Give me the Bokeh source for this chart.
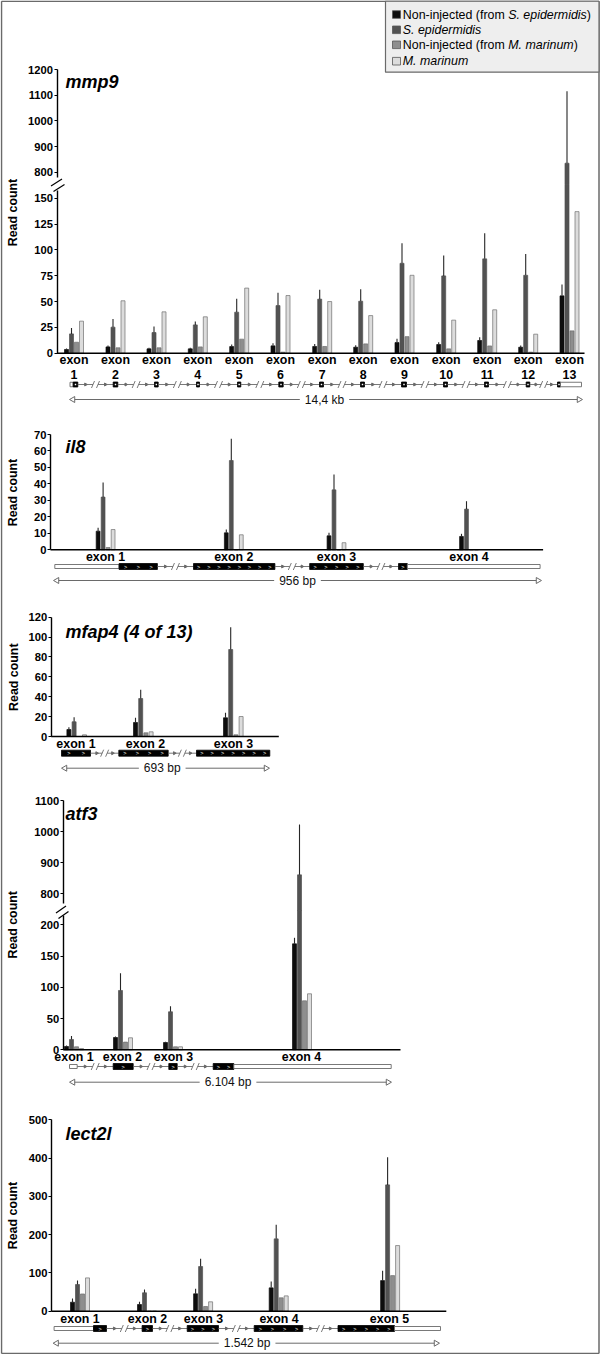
import numpy as np
from bokeh.plotting import figure
from bokeh.models import Range1d, LinearAxis, FixedTicker
from bokeh.embed import file_html
from bokeh.resources import INLINE
from bokeh.core.properties import value

# ---------------- data ----------------
legend_rows = [
    [("Non-injected (from ", "normal"), ("S. epidermidis", "italic"), (")", "normal")],
    [("S. epidermidis", "italic")],
    [("Non-injected (from ", "normal"), ("M. marinum", "italic"), (")", "normal")],
    [("M. marinum", "italic")],
]

mmp9_exons = ["1", "2", "3", "4", "5", "6", "7", "8", "9", "10", "11", "12", "13"]
mmp9_ni_se = [3.6, 6.1, 4.2, 4.2, 6.4, 7.1, 6.5, 5.8, 10.3, 8.4, 12.3, 5.8, 55.5]
mmp9_ni_se_hi = [4.5, 7.4, 5.2, 5.2, 8.4, 9.7, 9.0, 7.7, 14.0, 10.5, 15.5, 7.5, 66.5]
mmp9_se = [18.7, 25.2, 20.0, 27.4, 39.7, 46.1, 52.3, 50.3, 87.0, 74.8, 91.3, 75.4, 835.0]
mmp9_se_hi = [24.5, 33.2, 25.8, 30.6, 52.6, 58.4, 61.3, 62.0, 106.5, 94.5, 116.0, 96.0, 1115.0]
mmp9_ni_mm = [10.6, 5.2, 5.2, 6.1, 13.6, 1.0, 6.5, 9.0, 16.0, 4.2, 7.0, 1.0, 21.6]
mmp9_mm = [31.0, 50.7, 40.0, 35.2, 63.0, 55.8, 50.0, 36.4, 75.4, 32.0, 42.0, 18.4, 137.0]
mmp9_ticks_low = [0, 25, 50, 75, 100, 125, 150]
mmp9_ticks_high = [800, 900, 1000, 1100, 1200]

il8_exons = ["exon 1", "exon 2", "exon 3", "exon 4"]
il8_ni_se = [11.3, 10.3, 8.5, 8.1]
il8_ni_se_hi = [13.4, 12.3, 10.3, 9.7]
il8_se = [32.0, 54.2, 36.4, 24.7]
il8_se_hi = [40.9, 67.4, 45.7, 29.5]
il8_ni_mm = [1.4, 0.0, 0.0, 0.0]
il8_mm = [12.3, 9.1, 4.3, 0.0]
il8_ticks = [0, 10, 20, 30, 40, 50, 60, 70]

mfap4_exons = ["exon 1", "exon 2", "exon 3"]
mfap4_ni_se = [7.0, 14.1, 18.8]
mfap4_ni_se_hi = [9.4, 18.8, 23.8]
mfap4_se = [14.8, 38.2, 87.5]
mfap4_se_hi = [19.4, 47.0, 110.0]
mfap4_ni_mm = [0.0, 3.7, 1.7]
mfap4_mm = [1.7, 4.7, 20.1]
mfap4_ticks = [0, 20, 40, 60, 80, 100, 120]

atf3_exons = ["exon 1", "exon 2", "exon 3", "exon 4"]
atf3_ni_se = [5.3, 19.7, 11.7, 169.6]
atf3_ni_se_hi = [6.9, 21.3, 12.8, 179.2]
atf3_se = [16.5, 94.9, 60.8, 861.0]
atf3_se_hi = [21.9, 122.6, 69.8, 1022.8]
atf3_ni_mm = [4.8, 12.3, 4.8, 78.4]
atf3_mm = [2.1, 19.2, 4.8, 89.6]
atf3_ticks_low = [0, 50, 100, 150, 200]
atf3_ticks_high = [800, 900, 1000, 1100]

lect2l_exons = ["exon 1", "exon 2", "exon 3", "exon 4", "exon 5"]
lect2l_ni_se = [23.5, 17.5, 45.4, 61.0, 80.0]
lect2l_ni_se_hi = [33.0, 24.4, 58.4, 77.5, 105.4]
lect2l_se = [69.7, 48.0, 116.7, 189.0, 330.0]
lect2l_se_hi = [80.0, 56.6, 136.8, 225.6, 402.0]
lect2l_ni_mm = [45.0, 0.0, 12.3, 35.0, 93.0]
lect2l_mm = [87.0, 0.0, 24.5, 40.0, 171.5]
lect2l_ticks = [0, 100, 200, 300, 400, 500]

gene_sizes = ["14,4 kb", "956 bp", "693 bp", "6.104 bp", "1.542 bp"]
gene_titles = ["mmp9", "il8", "mfap4 (4 of 13)", "atf3", "lect2l"]

# ---------------- layout / style ----------------
W, H = 600, 1354
FONT = value("Liberation Sans")
FILL = ["#0d0d0d", "#525252", "#8e8e8e", "#dcdcdc"]
EDGE = ["#0d0d0d", "#525252", "#6f6f6f", "#707070"]
GREY = "#6a6a6a"

AW = {" ": 278, "(": 333, ")": 333, "-": 333, ".": 278, ",": 278, "N": 722, "S": 667, "M": 833,
      "a": 556, "b": 556, "c": 500, "d": 556, "e": 556, "f": 278, "g": 556, "h": 556, "i": 222,
      "j": 222, "k": 500, "l": 222, "m": 833, "n": 556, "o": 556, "p": 556, "r": 333, "s": 500,
      "t": 278, "u": 556}


def text_w(s, size):
    return sum(AW.get(ch, 556) for ch in s) / 1000.0 * size


def linmap(ypx0, v0, ypx1, v1):
    k = (v1 - v0) / (ypx0 - ypx1)
    return lambda y: v0 + (ypx0 - y) * k


maps = {
    "mmp9_lo": linmap(352.7, 0, 197.7, 150),
    "mmp9_hi": linmap(171.7, 800, 69, 1200),
    "il8": linmap(549.3, 0, 434, 70),
    "mfap4": linmap(736, 0, 616.7, 120),
    "atf3_lo": linmap(1049.3, 0, 924.3, 200),
    "atf3_hi": linmap(893.3, 800, 800, 1100),
    "lect2l": linmap(1310.7, 0, 1119.3, 500),
}

p = figure(width=W, height=H, x_range=Range1d(0, W), y_range=Range1d(H, 0),
           extra_y_ranges={k: Range1d(f(H), f(0)) for k, f in maps.items()},
           output_backend="svg", toolbar_location=None, x_axis_type=None, y_axis_type=None,
           min_border=0, background_fill_color="white", border_fill_color="white")
p.outline_line_color = None


def yaxis(ticks, bounds, xloc, rname):
    ax = LinearAxis(y_range_name=rname, ticker=FixedTicker(ticks=ticks), bounds=bounds,
                    fixed_location=xloc, axis_line_color="black", axis_line_width=1.4,
                    major_tick_line_color="black", major_tick_line_width=1.2,
                    major_tick_in=0, major_tick_out=3, minor_tick_in=0, minor_tick_out=0,
                    major_label_standoff=1, major_label_text_font="Liberation Sans",
                    major_label_text_font_style="bold", major_label_text_font_size="11.2px",
                    major_label_text_color="black")
    p.add_layout(ax, "left")


def txt(xs, ys, texts, size, style="normal", align="center", angle=0.0, color="black"):
    p.text(x=xs, y=ys, text=texts, text_font=FONT, text_font_size=f"{size}px",
           text_font_style=style, text_align=align, text_baseline="middle", angle=angle,
           text_color=color)


def bars(rng, centers, vals_list, hi_list, step, bw, cap=None, up=None):
    centers = np.asarray(centers, float)
    for i, (vals, hi) in enumerate(zip(vals_list, hi_list)):
        xs = centers + (i - 1.5) * step
        v = np.asarray(vals, float)
        top = np.minimum(v, cap) if cap is not None else v
        p.vbar(x=xs, top=top, bottom=0, width=bw, fill_color=FILL[i], line_color=EDGE[i],
               line_width=0.7, y_range_name=rng)
        if up is not None:
            urng, ustart = up
            m = v > ustart
            if m.any():
                p.vbar(x=xs[m], top=v[m], bottom=ustart, width=bw, fill_color=FILL[i],
                       line_color=EDGE[i], line_width=0.7, y_range_name=urng)
        if hi is None:
            continue
        e = np.asarray(hi, float)
        m = e > v
        if cap is not None:
            m &= v < cap
        y1 = np.minimum(e, cap) if cap is not None else e
        p.segment(x0=xs[m], x1=xs[m], y0=v[m], y1=y1[m], line_color="#262626", line_width=1.1,
                  y_range_name=rng)
        if up is not None:
            urng, ustart = up
            m2 = e > ustart
            if m2.any():
                p.segment(x0=xs[m2], x1=xs[m2], y0=np.maximum(v, ustart)[m2], y1=e[m2],
                          line_color="#262626", line_width=1.1, y_range_name=urng)


def intron(y, x0, x1):
    xm = (x0 + x1) / 2
    p.segment(x0=[x0, xm + 2.5], x1=[xm - 2.5, x1], y0=[y, y], y1=[y, y],
              line_color=GREY, line_width=0.9)
    p.segment(x0=[xm - 4.0, xm + 1.0], x1=[xm - 1.0, xm + 4.0], y0=[y + 3.5, y + 3.5],
              y1=[y - 3.5, y - 3.5], line_color=GREY, line_width=0.9)
    q = (x1 - x0) * 0.22
    p.scatter(x=[x0 + q, x1 - q], y=[y, y], marker="triangle", angle=-np.pi / 2, size=3,
              fill_color=GREY, line_color=GREY)


def gene(y, parts, exon_h=6.0, utr_h=4.0):
    for kind, x0, x1 in parts:
        if kind == "utr":
            p.quad(left=[x0], right=[x1], bottom=[y + utr_h / 2], top=[y - utr_h / 2],
                   fill_color="white", line_color=GREY, line_width=0.9)
        elif kind == "exon":
            p.quad(left=[x0], right=[x1], bottom=[y + exon_h / 2], top=[y - exon_h / 2],
                   fill_color="black", line_color="black", line_width=0.8)
            n = max(1, int((x1 - x0) / 10))
            cx = [x0 + (x1 - x0) * (k + 0.5) / n for k in range(n)]
            p.text(x=cx, y=[y] * n, text=[">"] * n, text_font=FONT, text_font_size="5.5px",
                   text_color="white", text_align="center", text_baseline="middle")
        elif kind == "box":
            p.quad(left=[x0], right=[x1], bottom=[y + 2.5], top=[y - 2.5],
                   fill_color="black", line_color="black", line_width=0.8)
            p.scatter(x=[(x0 + x1) / 2], y=[y], marker="square", size=1.5, fill_color="white",
                      line_color=None)
        else:
            intron(y, x0, x1)


def size_line(y, x0, x1, label, cx):
    half = text_w(label, 12) / 2 + 5
    p.segment(x0=[x0 + 3, cx + half], x1=[cx - half, x1 - 3], y0=[y, y], y1=[y, y],
              line_color=GREY, line_width=1.0)
    p.scatter(x=[x0 + 2.5, x1 - 2.5], y=[y, y], marker="triangle", angle=[np.pi / 2, -np.pi / 2],
              size=6, fill_color="white", line_color=GREY)
    txt([cx], [y], [label], 12, color="#111111")


def baseline(rng, x0, x1):
    p.segment(x0=[x0], x1=[x1], y0=[0], y1=[0], line_color="black", line_width=1.4,
              y_range_name=rng)


def breakmark(strokes):
    for (ax0, ay0, ax1, ay1) in strokes:
        p.segment(x0=[ax0], x1=[ax1], y0=[ay0], y1=[ay1], line_color="black", line_width=1.2)


# ---------- outer frame ----------
p.segment(x0=[1.0, 598.5, 1.0, 1.0], x1=[1.0, 598.5, 598.5, 598.5], y0=[0.7, 0.7, 0.7, 1353],
          y1=[1353, 1353, 0.7, 1353], line_color=GREY, line_width=1.5)

# ---------- panel 1: mmp9 (broken axis) ----------
lo, hi = maps["mmp9_lo"], maps["mmp9_hi"]
yb = 184.0
c1 = [73.5, 115, 156, 197.3, 238.7, 280, 321.7, 362.7, 404, 445.7, 486.7, 527.7, 569]
bars("mmp9_lo", c1, [mmp9_ni_se, mmp9_se, mmp9_ni_mm, mmp9_mm],
     [mmp9_ni_se_hi, mmp9_se_hi, None, None], 5.0, 4.0, cap=lo(yb), up=("mmp9_hi", hi(yb)))
yaxis(mmp9_ticks_low, (0, lo(190)), 56.5, "mmp9_lo")
yaxis(mmp9_ticks_high, (hi(177), 1200), 56.5, "mmp9_hi")
baseline("mmp9_lo", 56.5, 584)
breakmark([(50.5, 185.5, 61.5, 178.5), (53.0, 191.0, 64.0, 184.0)])
txt(c1, [359.3] * 13, ["exon"] * 13, 12.4, "bold")
txt(c1, [374.3] * 13, mmp9_exons, 12.4, "bold")
boxes = [(72.7, 77.3), (112.7, 117.3), (154, 157.7), (196, 199), (237, 240.3), (278.3, 282.7),
         (319, 323), (360, 364), (401, 406), (443, 447), (484, 488), (525.7, 529.3), (557, 560)]
parts = [("utr", 69.5, 72.7)]
for k, (a, b) in enumerate(boxes):
    parts.append(("box", a, b))
    if k + 1 < len(boxes):
        parts.append(("intron", b, boxes[k + 1][0]))
parts.append(("utr", 560, 581))
gene(384, parts, utr_h=4.5)
size_line(399, 70, 581, gene_sizes[0], 324)
txt([65], [81.7], [gene_titles[0]], 18, "bold italic", align="left")
txt([12], [212], ["Read count"], 12.4, "bold", angle=np.pi / 2)

# legend
p.quad(left=[385], right=[598.5], top=[0.7], bottom=[71.7], fill_color="#eeeeee",
       line_color=GREY, line_width=1.2)
rows_y = [14.0, 29.3, 44.3, 60.7]
for i, (ry, segs) in enumerate(zip(rows_y, legend_rows)):
    p.quad(left=[392], right=[400], top=[ry - 3.8], bottom=[ry + 3.8],
           fill_color=FILL[i], line_color="#555555", line_width=0.8)
    x = 402.3
    for s, st in segs:
        txt([x], [ry], [s.rstrip()], 12.4, st, align="left")
        x += text_w(s, 12.4)

# ---------- panel 2: il8 ----------
c2 = [105.1, 233.3, 336, 468.5]
bars("il8", c2, [il8_ni_se, il8_se, il8_ni_mm, il8_mm], [il8_ni_se_hi, il8_se_hi, None, None],
     5.0, 3.8)
yaxis(il8_ticks, (0, 70), 50, "il8")
baseline("il8", 50, 542.6)
txt(c2, [556.7] * 4, il8_exons, 12.4, "bold")
gene(566, [("utr", 54.3, 118.6), ("exon", 118.6, 156.9), ("intron", 156.9, 193),
           ("exon", 193, 274.4), ("intron", 274.4, 309.2), ("exon", 309.2, 362.8),
           ("intron", 362.8, 398), ("exon", 398, 406.8), ("utr", 406.8, 539.6)])
size_line(580, 54, 540, gene_sizes[1], 297)
txt([65], [446], [gene_titles[1]], 18, "bold italic", align="left")
txt([12.5], [492], ["Read count"], 12.4, "bold", angle=np.pi / 2)

# ---------- panel 3: mfap4 ----------
c3 = [76.2, 142.8, 232.8]
bars("mfap4", c3, [mfap4_ni_se, mfap4_se, mfap4_ni_mm, mfap4_mm],
     [mfap4_ni_se_hi, mfap4_se_hi, None, None], 5.2, 4.0)
yaxis(mfap4_ticks, (0, 120), 50.7, "mfap4")
baseline("mfap4", 50.7, 278.3)
txt([75.5, 145, 233], [743.3] * 3, mfap4_exons, 12.4, "bold")
gene(752.7, [("exon", 61, 90), ("intron", 90, 118.3), ("exon", 118.3, 167.7),
             ("intron", 167.7, 196), ("exon", 196, 269.3)])
size_line(767.7, 62, 268, gene_sizes[2], 161.7)
txt([65], [631.7], [gene_titles[2]], 18, "bold italic", align="left")
txt([13], [676.7], ["Read count"], 12.4, "bold", angle=np.pi / 2)

# ---------- panel 4: atf3 (broken axis) ----------
lo, hi = maps["atf3_lo"], maps["atf3_hi"]
yb = 910.0
c4 = [73.5, 122.5, 172.5, 301.5]
bars("atf3_lo", c4, [atf3_ni_se, atf3_se, atf3_ni_mm, atf3_mm],
     [atf3_ni_se_hi, atf3_se_hi, None, None], 5.0, 4.0, cap=lo(yb), up=("atf3_hi", hi(yb)))
yaxis(atf3_ticks_low, (0, lo(915)), 62.7, "atf3_lo")
yaxis(atf3_ticks_high, (hi(903), 1100), 62.7, "atf3_hi")
baseline("atf3_lo", 62.7, 400)
breakmark([(55.5, 912.5, 65.5, 905.5), (58.0, 918.0, 68.0, 911.0)])
txt([73.5, 122, 173, 301], [1056.7] * 4, atf3_exons, 12.4, "bold")
gene(1066, [("utr", 69, 76.7), ("intron", 76.7, 112.7), ("exon", 112.7, 132.7),
            ("intron", 132.7, 168.3), ("exon", 168.3, 176.7), ("intron", 176.7, 212.7),
            ("exon", 212.7, 233.3), ("utr", 233.3, 390.7)])
size_line(1081.7, 70, 390, gene_sizes[3], 227.5)
txt([65], [813.3], [gene_titles[3]], 18, "bold italic", align="left")
txt([12], [924.3], ["Read count"], 12.4, "bold", angle=np.pi / 2)

# ---------- panel 5: lect2l ----------
c5 = [79.5, 146.5, 202.6, 278.2, 389.6]
bars("lect2l", c5, [lect2l_ni_se, lect2l_se, lect2l_ni_mm, lect2l_mm],
     [lect2l_ni_se_hi, lect2l_se_hi, None, None], 5.0, 4.0)
yaxis(lect2l_ticks, (0, 500), 51, "lect2l")
baseline("lect2l", 51, 445.8)
txt([79.5, 147, 203, 278.6, 389], [1318.3] * 5, lect2l_exons, 12.4, "bold")
gene(1328, [("utr", 53.6, 93), ("exon", 93, 106), ("intron", 106, 141.6), ("exon", 141.6, 152),
            ("intron", 152, 186.7), ("exon", 186.7, 218), ("intron", 218, 253.7),
            ("exon", 253.7, 302.3), ("intron", 302.3, 337.5), ("exon", 337.5, 394),
            ("utr", 394, 440)])
size_line(1342.7, 53.6, 438, gene_sizes[4], 246.6)
txt([65], [1133], [gene_titles[4]], 18, "bold italic", align="left")
txt([12.5], [1215], ["Read count"], 12.4, "bold", angle=np.pi / 2)

open("out.html", "w").write(file_html(p, INLINE))
